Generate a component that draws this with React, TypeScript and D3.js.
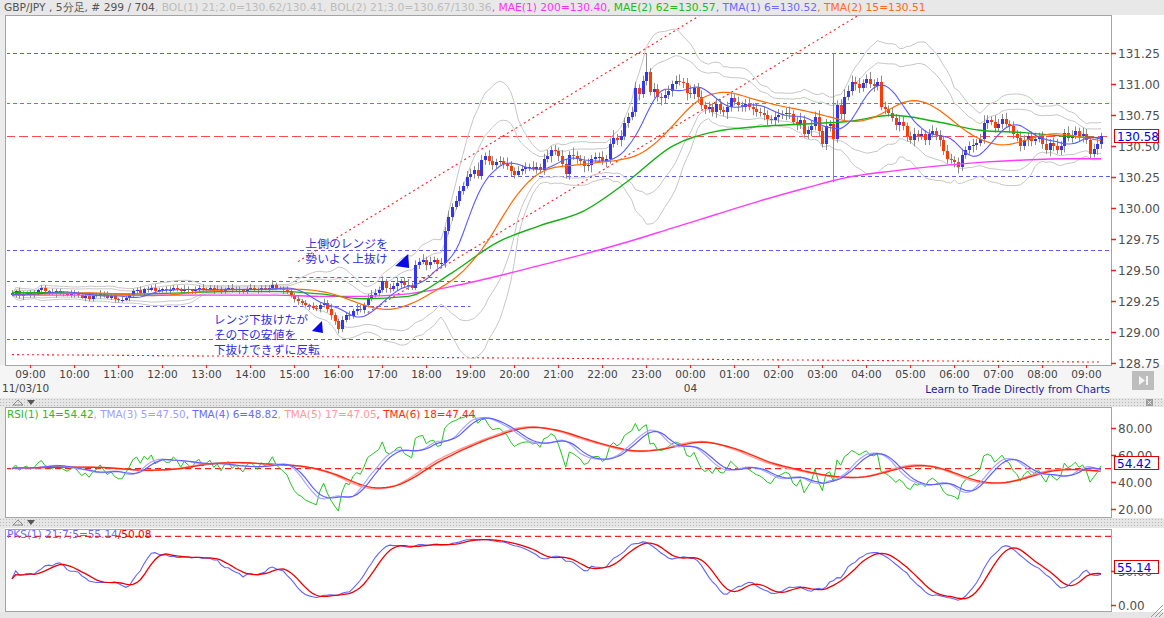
import { useEffect, useRef } from "react";
import * as d3 from "d3";

// price data in pips above 129.00, one entry per 5-minute bar (08:35 .. 09:20 next day)
const firstOpen = 32;
const closePips = [
  30, 33, 29, 31, 32, 30, 31, 34, 36, 33, 32, 31, 33, 32, 31,
  30, 31, 32, 30, 28, 29, 27, 29, 30, 32, 30, 28, 29, 27, 26, 26, 28, 30, 33, 34, 32, 35, 34, 36, 33, 34, 35, 34,
  34, 36, 35, 33, 35, 34, 33, 35, 36, 34, 35, 36, 34, 35, 33, 35, 36, 34, 35, 34, 33, 35, 36, 35, 34, 36, 35, 36,
  38, 36, 35, 34, 33, 30, 27, 25, 24, 22, 21, 20, 19, 22, 24, 19, 14, 9, 3, 10, 14, 13, 17, 19, 18, 22, 28, 30,
  32, 34, 41, 36, 35, 37, 40, 41, 38, 37, 36, 54, 57, 58, 54, 57, 58, 55, 56, 82, 93, 101, 106, 114, 118, 125, 128,
  131, 126, 139, 142, 138, 135, 137, 138, 136, 134, 130, 127, 130, 132, 133, 133, 132, 133, 131, 140, 142, 147, 146, 142, 136, 128, 143, 142, 140,
  138, 134, 135, 140, 141, 141, 138, 140, 152, 157, 155, 158, 169, 174, 178, 197, 192, 203, 210, 194, 196, 190, 189, 191, 195, 200, 203, 202,
  201, 193, 192, 197, 190, 183, 180, 182, 178, 184, 179, 178, 182, 189, 186, 183, 182, 184, 182, 180, 178, 177, 175, 172, 171, 174, 175, 176,
  177, 176, 170, 168, 171, 160, 163, 166, 174, 162, 152, 166, 168, 156, 183, 176, 190, 195, 202, 200, 197, 201, 204, 200, 199, 202, 182, 180,
  177, 173, 167, 170, 166, 158, 155, 160, 158, 160, 155, 160, 162, 159, 155, 146, 140, 139, 137, 133, 143, 147, 150, 151, 153, 156, 169, 171,
  170, 165, 168, 172, 168, 166, 160, 157, 150, 155, 158, 154, 156, 158, 152, 147, 153, 150, 147, 150, 161, 157, 159, 162, 158, 160, 155, 144, 148, 152, 158,
];
const wickUp = [
  2, 1, 3, 2, 1, 2, 3, 1, 2, 2, 1, 3, 2, 2, 1, 2, 3, 2, 1, 2, 2, 3, 1, 2, 2, 1, 3, 2, 2, 1,
  3, 2, 1, 2, 2, 3, 1, 2, 2, 3, 2, 1, 2, 3, 2, 2, 1, 3, 2, 1, 2, 2, 3, 1, 2, 2, 3, 2, 1, 2,
  3, 2, 2, 1, 2, 3, 2, 1, 2, 2, 2, 4, 2, 1, 2, 3, 2, 2, 3, 2, 2, 1, 3, 2, 2, 3, 2, 4, 2, 2,
  3, 2, 3, 2, 4, 3, 2, 3, 4, 3, 3, 4, 2, 3, 3, 4, 2, 3, 5, 3, 4, 3, 5, 3, 4, 3, 2, 4, 3, 5,
  3, 4, 4, 3, 5, 4, 3, 6, 4, 3, 5, 4, 3, 4, 3, 5, 4, 3, 4, 3, 4, 3, 5, 4, 3, 4, 5, 3, 4, 3,
  5, 4, 3, 6, 4, 3, 4, 5, 3, 4, 4, 5, 3, 4, 6, 3, 5, 4, 3, 4, 5, 3, 4, 15, 3, 5, 4, 3, 5, 4,
  3, 4, 5, 3, 4, 6, 3, 4, 5, 3, 4, 3, 5, 4, 3, 4, 5, 3, 4, 3, 4, 5, 3, 4, 3, 5, 4, 3, 4, 5,
  3, 4, 5, 3, 4, 6, 4, 3, 5, 4, 5, 4, 6, 3, 57, 4, 5, 6, 4, 5, 4, 5, 3, 4, 6, 4, 3, 5, 4, 3,
  4, 3, 5, 4, 3, 4, 5, 3, 4, 3, 4, 5, 3, 4, 3, 5, 4, 3, 4, 5, 3, 4, 5, 3, 4, 6, 4, 3, 5, 4,
  4, 5, 3, 4, 3, 5, 4, 3, 4, 5, 3, 4, 5, 3, 4, 6, 4, 3, 5, 4, 4, 3, 5, 4, 3, 4, 5, 3,
];
const wickDown = [
  1, 2, 2, 3, 1, 2, 2, 1, 3, 2, 2, 1, 3, 2, 2, 1, 2, 3, 2, 1, 3, 2, 2, 1, 3, 2, 1, 2, 3, 2,
  2, 1, 3, 2, 2, 1, 3, 2, 1, 2, 1, 2, 2, 3, 1, 2, 2, 1, 3, 2, 2, 3, 1, 2, 2, 3, 1, 2, 2, 1,
  2, 1, 3, 2, 2, 1, 2, 3, 2, 1, 3, 2, 2, 1, 3, 2, 2, 3, 3, 2, 2, 3, 2, 2, 3, 2, 3, 4, 3, 4,
  3, 2, 3, 2, 3, 2, 3, 2, 3, 2, 3, 2, 4, 3, 2, 3, 4, 2, 3, 2, 2, 3, 2, 4, 3, 2, 3, 2, 4, 3,
  3, 2, 4, 3, 2, 3, 4, 2, 3, 4, 3, 4, 3, 2, 4, 3, 4, 3, 2, 3, 4, 3, 2, 4, 3, 4, 3, 5, 3, 4,
  3, 4, 5, 3, 4, 3, 5, 4, 6, 3, 4, 3, 5, 4, 3, 4, 5, 3, 4, 3, 4, 5, 3, 4, 3, 5, 4, 6, 4, 3,
  5, 4, 3, 4, 6, 3, 4, 5, 3, 4, 3, 4, 5, 3, 4, 6, 4, 3, 5, 4, 4, 3, 5, 4, 3, 4, 5, 3, 4, 5,
  3, 5, 4, 3, 5, 4, 3, 4, 5, 3, 4, 3, 5, 4, 35, 3, 4, 5, 3, 4, 5, 4, 3, 4, 3, 5, 4, 3, 4, 3,
  3, 4, 5, 3, 4, 3, 5, 4, 3, 4, 4, 3, 4, 5, 3, 4, 3, 4, 5, 3, 3, 4, 5, 4, 3, 4, 5, 3, 4, 3,
  4, 3, 5, 4, 3, 4, 3, 5, 4, 3, 3, 4, 3, 5, 4, 3, 4, 5, 3, 4, 3, 4, 5, 3, 4, 3, 5, 4,
];
// long moving averages, one value per hour (every 12 bars) plus the last bar
const mae200Pips = [30, 30, 30, 30, 30, 30, 30, 29, 29, 31, 37, 45, 54, 63, 73, 84, 95, 106, 116, 125, 130, 134, 137, 139, 140, 140];
const mae62Pips = [32, 32, 31, 31, 32, 33, 33, 31, 27, 29, 48, 72, 86, 98, 122, 150, 162, 166, 168, 170, 175, 170, 163, 161, 158, 157];

const hourLabels = [
  "09:00", "10:00", "11:00", "12:00", "13:00", "14:00", "15:00", "16:00", "17:00", "18:00", "19:00", "20:00",
  "21:00", "22:00", "23:00", "00:00", "01:00", "02:00", "03:00", "04:00", "05:00", "06:00", "07:00", "08:00", "09:00",
];
const priceTicks = [128.75, 129.0, 129.25, 129.5, 129.75, 130.0, 130.25, 130.5, 130.75, 131.0, 131.25];
const rsiTicks = [20, 40, 60, 80];
const pksTicks = [0, 50];
const rsiLast = 54.42;
const pksLast = 55.14;

// horizontal levels: [price, first bar, last bar]
const blueLevels = [[131.25, 0, 297], [130.26, 132, 297], [129.66, 0, 297], [129.41, 0, 125], [129.21, 0, 125], [128.95, 0, 297]];
const greenLevels = [[130.85, 0, 297]];
const redLevels = [[129.45, 77, 116]];
// trend lines: [bar, price, bar, price]
const trendLines = [[78, 129.57, 200, 131.78], [97, 129.16, 240, 131.72], [0, 128.82, 297, 128.76]];

const headerParts = [
  "GBP/JPY , 5分足, # 299 / 704",
  ", BOL(1) 21;2.0=130.62/130.41, BOL(2) 21;3.0=130.67/130.36",
  ", MAE(1) 200=130.40",
  ", MAE(2) 62=130.57",
  ", TMA(1) 6=130.52",
  ", TMA(2) 15=130.51",
];
const rsiParts = ["RSI(1) 14=54.42", ", TMA(3) 5=47.50", ", TMA(4) 6=48.82", ", TMA(5) 17=47.05", ", TMA(6) 18=47.44"];
const pksParts = ["PKS(1) 21;7;5=55.14", "/50.08"];
const noteUpper = ["上側のレンジを", "勢いよく上抜け"];
const noteLower = ["レンジ下抜けたが", "その下の安値を", "下抜けできずに反転"];

function sma(a: number[], n: number) {
  return a.map((_, i) => d3.mean(a.slice(Math.max(0, i - n + 1), i + 1)) as number);
}
function tma(a: number[], n: number) {
  return sma(sma(a, n), n);
}
function sdev(a: number[], n: number) {
  return a.map((_, i) => {
    const w = a.slice(Math.max(0, i - n + 1), i + 1);
    const m = d3.mean(w) as number;
    return Math.sqrt((d3.mean(w.map((v) => (v - m) * (v - m))) as number) || 0);
  });
}

export default function App() {
  const ref = useRef<SVGSVGElement | null>(null);

  useEffect(() => {
    if (!ref.current) return;
    const svg = d3.select(ref.current);
    svg.selectAll("*").remove();

    const N = closePips.length;
    const close = closePips.map((v) => 129 + v / 100);
    const open = closePips.map((_, i) => 129 + (i === 0 ? firstOpen : closePips[i - 1]) / 100);
    const high = close.map((c, i) => Math.max(c, open[i]) + wickUp[i] / 100);
    const low = close.map((c, i) => Math.min(c, open[i]) - wickDown[i] / 100);

    const x = d3.scaleLinear().domain([0, N - 1]).range([12, 1101]);
    const y = d3.scaleLinear().domain([128.75, 131.25]).range([363.3, 53.3]);
    const yr = d3.scaleLinear().domain([20, 80]).range([509, 428.3]);
    const yp = d3.scaleLinear().domain([0, 100]).range([605.3, 536.3]);

    const defs = svg.append("defs");
    const pat = defs.append("pattern").attr("id", "dots").attr("width", 3).attr("height", 3).attr("patternUnits", "userSpaceOnUse");
    pat.append("rect").attr("width", 3).attr("height", 3).attr("fill", "#e6e6e6");
    pat.append("rect").attr("width", 1).attr("height", 1).attr("fill", "#b8b8b8");
    const clip = (id: string, y0: number, h: number) =>
      defs.append("clipPath").attr("id", id).append("rect").attr("x", 7).attr("y", y0).attr("width", 1104).attr("height", h);
    clip("cMain", 16, 348.5);
    clip("cRsi", 408, 109);
    clip("cPks", 530, 81);

    // backgrounds
    svg.append("rect").attr("width", 1164).attr("height", 618).attr("fill", "#ececec");
    svg.append("rect").attr("width", 1164).attr("height", 15).attr("fill", "#e8e8e8");
    svg.append("rect").attr("x", 6).attr("y", 15).attr("width", 1158).attr("height", 350).attr("fill", "#fff");
    svg.append("rect").attr("x", 0).attr("y", 365).attr("width", 1164).attr("height", 33).attr("fill", "#f5f5f5");
    svg.append("rect").attr("x", 0).attr("y", 398).attr("width", 1164).attr("height", 9).attr("fill", "url(#dots)");
    svg.append("rect").attr("x", 5).attr("y", 407).attr("width", 1159).attr("height", 111).attr("fill", "#fff");
    svg.append("rect").attr("x", 0).attr("y", 518).attr("width", 1164).attr("height", 10).attr("fill", "url(#dots)");
    svg.append("rect").attr("x", 5).attr("y", 528).attr("width", 1159).attr("height", 84).attr("fill", "#fff");
    svg.append("rect").attr("x", 0).attr("y", 612).attr("width", 1164).attr("height", 6).attr("fill", "#e6e6e6");

    // splitter icons
    [399, 519].forEach((sy) => {
      svg.append("path").attr("d", `M13,${sy + 6} L18,${sy + 1} L23,${sy + 6} Z`).attr("fill", "none").attr("stroke", "#777").attr("stroke-width", 0.8);
      svg.append("path").attr("d", `M27,${sy + 1} L35,${sy + 1} L31,${sy + 6} Z`).attr("fill", "#555");
    });
    svg.append("rect").attr("x", 1146).attr("y", 399).attr("width", 7).attr("height", 7).attr("fill", "#9a9a9a");
    svg.append("path").attr("d", "M1147.5,400.5 L1151.5,404.5 M1151.5,400.5 L1147.5,404.5").attr("stroke", "#eee").attr("stroke-width", 1);

    // frames
    const frame = (y0: number, y1: number) =>
      svg.append("rect").attr("x", 5.5).attr("y", y0).attr("width", 1106).attr("height", y1 - y0)
        .attr("fill", "none").attr("stroke", "#a4a4a4").attr("stroke-width", 1);
    frame(15.5, 365.5);
    frame(407.5, 517.5);
    frame(529.5, 611.5);

    const main = svg.append("g").attr("clip-path", "url(#cMain)");

    // level lines
    const level = (lv: number[][], color: string, dash: string, w: number) =>
      lv.forEach(([p, a, b]) => {
        main.append("line").attr("x1", x(a) - 6).attr("x2", b === N - 1 ? 1111 : x(b))
          .attr("y1", Math.round(y(p)) + 0.5).attr("y2", Math.round(y(p)) + 0.5)
          .attr("stroke", color).attr("stroke-width", w).attr("stroke-dasharray", dash);
      });
    level(blueLevels, "#5c5cf0", "4,3", 1);
    level(greenLevels, "#22c022", "4,3", 1);
    level(redLevels, "#ff3030", "4,3", 1);
    level([[close[N - 1], 0, N - 1]], "#ff4a4a", "9,4", 1);

    trendLines.forEach(([a, p, b, q]) => {
      main.append("line").attr("x1", x(a)).attr("y1", y(p)).attr("x2", x(b)).attr("y2", y(q))
        .attr("stroke", "#ff2020").attr("stroke-width", 1.1).attr("stroke-dasharray", "2,3");
    });

    // bollinger bands
    const mid = sma(close, 21);
    const sd = sdev(close, 21);
    const line = d3.line<number>().x((_, i) => x(i)).y((d) => y(d));
    [2, 3].forEach((k) => {
      [1, -1].forEach((s) => {
        main.append("path").attr("d", line(mid.map((m, i) => m + s * k * sd[i])) as string)
          .attr("fill", "none").attr("stroke", "#c6c6c6").attr("stroke-width", 1);
      });
    });

    // candles
    const idx = d3.range(N);
    main.append("g").selectAll("line").data(idx).join("line")
      .attr("x1", (i) => Math.round(x(i)) + 0.5).attr("x2", (i) => Math.round(x(i)) + 0.5)
      .attr("y1", (i) => y(high[i])).attr("y2", (i) => y(low[i]))
      .attr("stroke", "#8c8c8c").attr("stroke-width", 1);
    main.append("g").attr("shape-rendering", "crispEdges").selectAll("rect").data(idx).join("rect")
      .attr("x", (i) => Math.round(x(i)) - 1)
      .attr("width", 3)
      .attr("y", (i) => y(Math.max(open[i], close[i])))
      .attr("height", (i) => Math.max(1, Math.abs(y(open[i]) - y(close[i]))))
      .attr("fill", (i) => (close[i] >= open[i] ? "#3434f4" : "#ff3b05"));

    // moving averages
    const sampleIdx = d3.range(0, N, 12).concat([N - 1]);
    const sampled = d3.line<number[]>().x((d) => x(d[0])).y((d) => y(d[1])).curve(d3.curveMonotoneX);
    main.append("path").attr("d", sampled(sampleIdx.map((i, k) => [i, 129 + mae200Pips[k] / 100])) as string)
      .attr("fill", "none").attr("stroke", "#ff3cff").attr("stroke-width", 1.4);
    main.append("path").attr("d", sampled(sampleIdx.map((i, k) => [i, 129 + mae62Pips[k] / 100])) as string)
      .attr("fill", "none").attr("stroke", "#14b014").attr("stroke-width", 1.4);
    main.append("path").attr("d", line(tma(close, 15)) as string)
      .attr("fill", "none").attr("stroke", "#ff6a00").attr("stroke-width", 1.2);
    main.append("path").attr("d", line(tma(close, 6)) as string)
      .attr("fill", "none").attr("stroke", "#5a5aff").attr("stroke-width", 1.1);

    // annotations
    const noteColor = "#2f2fe0";
    const jp = "'Noto Sans CJK JP', sans-serif";
    noteUpper.forEach((s, k) => {
      svg.append("text").attr("x", x(80)).attr("y", y([129.68, 129.56][k])).attr("font-family", jp)
        .attr("font-size", 11.8).attr("fill", noteColor).text(s);
    });
    noteLower.forEach((s, k) => {
      svg.append("text").attr("x", x(55)).attr("y", y([129.067, 128.946, 128.825][k])).attr("font-family", jp)
        .attr("font-size", 11.8).attr("fill", noteColor).text(s);
    });
    const tri = (i: number, p: number, w: number, h: number) =>
      svg.append("path").attr("d", `M${x(i)},${y(p)} l${w},${-h} l1,${h + 2} Z`).attr("fill", "#0a0ae8");
    tri(104.5, 129.535, 13, 12);
    tri(81.8, 129.01, 10, 10);

    // price axis
    const ticksRight = (ticks: number[], sc: (v: number) => number, fmt: (v: number) => string) =>
      ticks.forEach((t) => {
        const ty = Math.round(sc(t)) + 0.5;
        svg.append("line").attr("x1", 1111).attr("x2", 1116).attr("y1", ty).attr("y2", ty).attr("stroke", "#ff1a1a").attr("stroke-width", 1.5);
        svg.append("text").attr("x", 1118).attr("y", ty + 4.5).attr("font-size", 12).attr("fill", "#505050").text(fmt(t));
      });
    ticksRight(priceTicks, y, (v) => v.toFixed(2));
    ticksRight(rsiTicks, yr, (v) => v.toFixed(2));
    ticksRight(pksTicks, yp, (v) => v.toFixed(2));

    const valueBox = (v: number, sc: (v: number) => number) => {
      const cy = sc(v);
      svg.append("rect").attr("x", 1114.5).attr("y", Math.round(cy) - 6.5).attr("width", 44).attr("height", 13)
        .attr("fill", "#fff").attr("stroke", "#e00000").attr("stroke-width", 1);
      svg.append("text").attr("x", 1117).attr("y", Math.round(cy) + 4.5).attr("font-size", 12).attr("fill", "#0000ee").text(v.toFixed(2));
    };
    valueBox(close[N - 1], y);
    valueBox(rsiLast, yr);
    valueBox(pksLast, yp);

    // time axis
    hourLabels.forEach((lab, k) => {
      const tx = Math.round(x(5 + 12 * k)) + 0.5;
      svg.append("line").attr("x1", tx).attr("x2", tx).attr("y1", 365).attr("y2", 368).attr("stroke", "#ff1a1a");
      svg.append("text").attr("x", tx).attr("y", 378).attr("text-anchor", "middle").attr("font-size", 10.5).attr("fill", "#444").text(lab);
      if (lab === "00:00") {
        svg.append("text").attr("x", tx).attr("y", 392).attr("text-anchor", "middle").attr("font-size", 10.5).attr("fill", "#444").text("04");
      }
    });
    svg.append("text").attr("x", 2).attr("y", 392).attr("font-size", 10.5).attr("fill", "#444").text("11/03/10");
    svg.append("text").attr("x", 1110).attr("y", 393).attr("text-anchor", "end").attr("font-size", 10.5).attr("fill", "#1c1c9c")
      .text("Learn to Trade Directly from Charts");
    svg.append("rect").attr("x", 1132).attr("y", 371).attr("width", 22).attr("height", 19).attr("fill", "#bdbdbd");
    svg.append("path").attr("d", "M1139,376 L1145,380.5 L1139,385 Z").attr("fill", "#f4f4f4");
    svg.append("rect").attr("x", 1146).attr("y", 376).attr("width", 2).attr("height", 9).attr("fill", "#f4f4f4");

    // RSI panel
    const rsi: number[] = [50];
    let ag = 0.02;
    let al = 0.02;
    for (let i = 1; i < N; i++) {
      const d = close[i] - close[i - 1];
      ag = (ag * 13 + Math.max(d, 0)) / 14;
      al = (al * 13 + Math.max(-d, 0)) / 14;
      rsi.push(100 - 100 / (1 + ag / al));
    }
    const rg = svg.append("g").attr("clip-path", "url(#cRsi)");
    rg.append("line").attr("x1", 5).attr("x2", 1111).attr("y1", yr(50)).attr("y2", yr(50))
      .attr("stroke", "#ee2020").attr("stroke-width", 1.3).attr("stroke-dasharray", "6,4");
    const rline = d3.line<number>().x((_, i) => x(i)).y((d) => yr(d));
    const rsiSeries: [number[], string, number][] = [
      [rsi, "#22c422", 1],
      [tma(rsi, 17), "#ff9a9a", 1.4],
      [tma(rsi, 18), "#ff2a10", 1.4],
      [tma(rsi, 5), "#a8a8ff", 1.2],
      [tma(rsi, 6), "#6060ff", 1.2],
    ];
    rsiSeries.forEach(([s, c, w]) =>
      rg.append("path").attr("d", rline(s) as string).attr("fill", "none").attr("stroke", c).attr("stroke-width", w));
    const rt = svg.append("text").attr("x", 7).attr("y", 418).attr("font-size", 10.4);
    ["#2cb82c", "#a0a0ff", "#6a6aff", "#ff9a9a", "#ff2a10"].forEach((c, k) => rt.append("tspan").attr("fill", c).text(rsiParts[k]));

    // PKS panel (the first bars use the opening 21-bar window in place of the missing history)
    const rawK = close.map((c, i) => {
      const a = Math.max(0, i - 20);
      const b = Math.max(i, 20) + 1;
      const lo = d3.min(low.slice(a, b)) as number;
      const hi = d3.max(high.slice(a, b)) as number;
      return hi > lo ? ((c - lo) / (hi - lo)) * 100 : 50;
    });
    const pk = sma(rawK, 7);
    const pd = sma(pk, 5);
    const pg = svg.append("g").attr("clip-path", "url(#cPks)");
    pg.append("line").attr("x1", 5).attr("x2", 1111).attr("y1", yp(100)).attr("y2", yp(100))
      .attr("stroke", "#ee2020").attr("stroke-width", 1.3).attr("stroke-dasharray", "6,4");
    const pline = d3.line<number>().x((_, i) => x(i)).y((d) => yp(d));
    pg.append("path").attr("d", pline(pk) as string).attr("fill", "none").attr("stroke", "#6464ff").attr("stroke-width", 1.1);
    pg.append("path").attr("d", pline(pd) as string).attr("fill", "none").attr("stroke", "#ee0000").attr("stroke-width", 1.3);
    const pt = svg.append("text").attr("x", 7).attr("y", 538).attr("font-size", 10.5);
    ["#6a6aff", "#ee0000"].forEach((c, k) => pt.append("tspan").attr("fill", c).text(pksParts[k]));

    // header
    const ht = svg.append("text").attr("x", 4).attr("y", 11).attr("font-size", 10.7);
    ["#555555", "#bcbcbc", "#ff30ff", "#20bb20", "#6a6aff", "#ff6a1a"].forEach((c, k) => ht.append("tspan").attr("fill", c).text(headerParts[k]));

    // resize grip
    [4, 8, 12].forEach((d) => {
      svg.append("line").attr("x1", 1163 - d).attr("y1", 617).attr("x2", 1163).attr("y2", 617 - d).attr("stroke", "#999");
    });
  }, []);

  return (
    <svg
      ref={ref}
      width={1164}
      height={618}
      style={{ position: "absolute", left: 0, top: 0, fontFamily: "'DejaVu Sans', sans-serif" }}
    />
  );
}
